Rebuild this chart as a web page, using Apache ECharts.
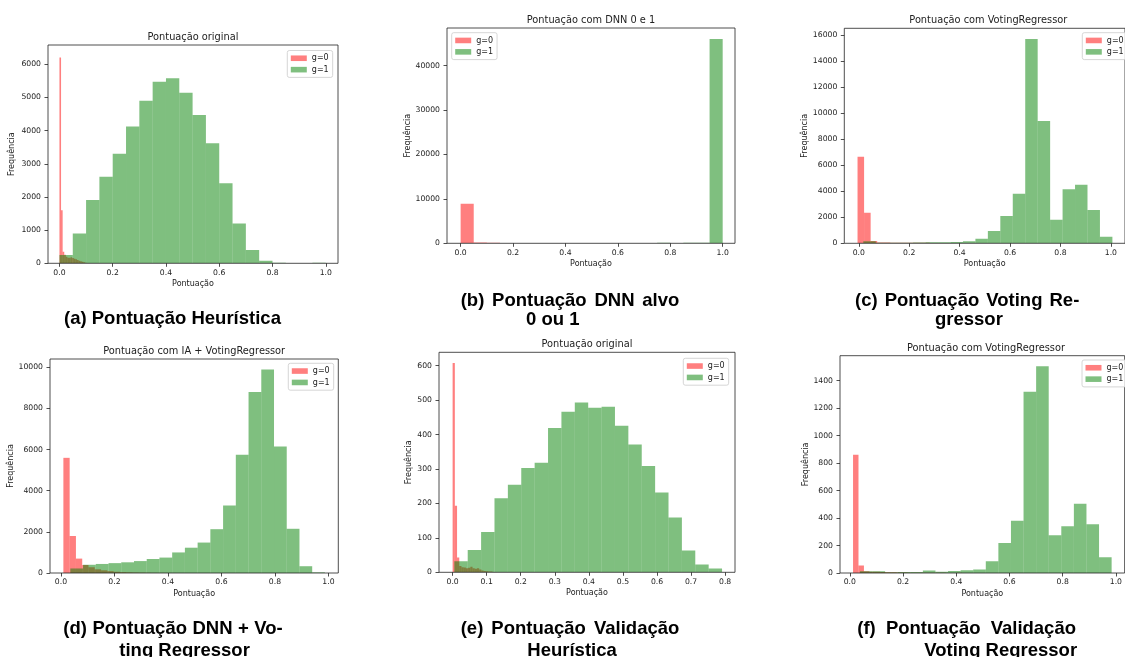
<!DOCTYPE html>
<html>
<head>
<meta charset="utf-8">
<script src="https://cdn.jsdelivr.net/npm/echarts@6/dist/echarts.min.js"></script>
<style>
  html, body { margin: 0; background: #fff; }
  #chart { width: 1125px; height: 657px; }
</style>
</head>
<body>
<div id="chart"></div>
<script>
// contagens por bin (20 bins por grupo), g=0 vermelho e g=1 verde
const countsA0 = [6200, 1600, 350, 260, 200, 170, 170, 180, 160, 140, 120, 100, 80, 60, 45, 30, 20, 12, 8, 5]
const countsA1 = [250, 900, 1910, 2610, 3300, 4120, 4900, 5470, 5580, 5140, 4470, 3620, 2410, 1200, 400, 80, 20, 5, 5, 20]
const countsB0 = [8900, 160, 140, 0, 0, 0, 0, 0, 0, 0, 0, 0, 0, 0, 0, 0, 0, 0, 0, 0]
const countsB1 = [0, 0, 0, 0, 0, 0, 0, 0, 0, 0, 0, 0, 0, 0, 0, 150, 0, 120, 150, 46000]
const countsC0 = [6650, 2350, 170, 60, 55, 50, 50, 45, 40, 40, 35, 30, 20, 15, 10, 8, 5, 3, 2, 1]
const countsC1 = [150, 50, 40, 40, 70, 80, 80, 100, 150, 350, 950, 2100, 3800, 15700, 9400, 1800, 4150, 4500, 2550, 500]
const countsD0 = [5600, 1800, 700, 390, 280, 180, 130, 90, 60, 40, 30, 20, 15, 10, 6, 4, 3, 2, 1, 1]
const countsD1 = [220, 400, 440, 480, 520, 580, 680, 750, 1000, 1230, 1480, 2130, 3280, 5750, 8800, 9900, 6150, 2150, 330, 30]
const countsE0 = [608, 193, 43, 18, 15, 14, 12, 13, 16, 12, 10, 12, 8, 5, 4, 3, 2, 2, 1, 1]
const countsE1 = [32, 65, 117, 215, 254, 303, 318, 419, 466, 493, 478, 481, 426, 371, 309, 232, 159, 63, 23, 11]
const countsF0 = [860, 55, 12, 10, 10, 8, 6, 5, 3, 3, 2, 2, 2, 1, 1, 1, 1, 0, 0, 1]
const countsF1 = [12, 12, 5, 8, 8, 18, 10, 15, 20, 25, 85, 218, 380, 1320, 1505, 275, 340, 505, 355, 115]

// primeira borda e largura do bin de cada grupo
const binsA0 = [0, 0.006]
const binsA1 = [0, 0.05]
const binsB0 = [0, 0.05]
const binsB1 = [0, 0.05]
const binsC0 = [-0.005, 0.026]
const binsC1 = [0.018, 0.0494]
const binsD0 = [0.009, 0.0235]
const binsD1 = [0.035, 0.0476]
const binsE0 = [0, 0.0065]
const binsE1 = [0.005, 0.0393]
const binsF0 = [0.012, 0.0205]
const binsF1 = [0.038, 0.0473]

// marcas dos eixos
const xTicks = [0, 0.2, 0.4, 0.6, 0.8, 1.0]
const xTicksE = [0, 0.1, 0.2, 0.3, 0.4, 0.5, 0.6, 0.7, 0.8]
const yTicksA = [0, 1000, 2000, 3000, 4000, 5000, 6000]
const yTicksB = [0, 10000, 20000, 30000, 40000]
const yTicksC = [0, 2000, 4000, 6000, 8000, 10000, 12000, 14000, 16000]
const yTicksD = [0, 2000, 4000, 6000, 8000, 10000]
const yTicksE = [0, 100, 200, 300, 400, 500, 600]
const yTicksF = [0, 200, 400, 600, 800, 1000, 1200, 1400]

const FONT = 'DejaVu Sans'
const INK = '#222'
const RED = 'rgba(255, 0, 0, 0.5)'
const GREEN = 'rgba(0, 128, 0, 0.5)'

const panels = [
  { title: 'Pontuação original', rect: [48, 45, 290, 218.3], xr: [-0.043, 1.046], ymax: 6580,
    xt: xTicks, yt: yTicksA, g0: [countsA0, binsA0], g1: [countsA1, binsA1], leg: [287.3, 50.5], yGap: 32.4 },
  { title: 'Pontuação com DNN 0 e 1', rect: [447, 28, 288, 215.3], xr: [-0.052, 1.047], ymax: 48490,
    xt: xTicks, yt: yTicksB, g0: [countsB0, binsB0], g1: [countsB1, binsB1], leg: [451.7, 32.7], yGap: 33.8 },
  { title: 'Pontuação com VotingRegressor', rect: [844.3, 28.3, 288, 215], xr: [-0.0575, 1.056], ymax: 16513,
    xt: xTicks, yt: yTicksC, g0: [countsC0, binsC0], g1: [countsC1, binsC1], leg: [1082.3, 32.7], yGap: 34.7 },
  { title: 'Pontuação com IA + VotingRegressor', rect: [50, 359, 288.3, 214], xr: [-0.041, 1.037], ymax: 10405,
    xt: xTicks, yt: yTicksD, g0: [countsD0, binsD0], g1: [countsD1, binsD1], leg: [288.3, 363.3], yGap: 34.4 },
  { title: 'Pontuação original', rect: [439, 352.3, 296, 220], xr: [-0.040, 0.829], ymax: 639,
    xt: xTicksE, yt: yTicksE, g0: [countsE0, binsE0], g1: [countsE1, binsE1], leg: [683.3, 358.3], yGap: 25.8 },
  { title: 'Pontuação com VotingRegressor', rect: [840, 355.7, 292, 217.3], xr: [-0.037, 1.033], ymax: 1582,
    xt: xTicks, yt: yTicksF, g0: [countsF0, binsF0], g1: [countsF1, binsF1], leg: [1082, 360], yGap: 30.4 }
]

// legendas das subfiguras; w = largura da linha justificada
const captions = [
  { text: '(a) Pontuação Heurística', x: 64, y: 319 },
  { text: '(b) Pontuação DNN alvo', x: 460.7, y: 300.5, w: 218.6 },
  { text: '0 ou 1', x: 526, y: 320 },
  { text: '(c) Pontuação Voting Re-', x: 855, y: 300.5, w: 224.3 },
  { text: 'gressor', x: 935, y: 320 },
  { text: '(d) Pontuação DNN + Vo-', x: 63.3, y: 629, w: 219.4 },
  { text: 'ting Regressor', x: 119.3, y: 650.5 },
  { text: '(e) Pontuação Validação', x: 460.7, y: 629, w: 218.6 },
  { text: 'Heurística', x: 527.3, y: 650.5 },
  { text: '(f) Pontuação Validação', x: 857.3, y: 629, w: 218.7 },
  { text: 'Voting Regressor', x: 924.3, y: 650.5 }
]

function toBins(counts, bins) {
  return counts.map((c, i) => [bins[0] + i * bins[1], bins[0] + (i + 1) * bins[1], c])
}

function renderBin(params, api) {
  const lo = api.coord([api.value(0), 0])
  const hi = api.coord([api.value(1), api.value(2)])
  return {
    type: 'rect',
    shape: { x: lo[0], y: hi[1], width: hi[0] - lo[0], height: lo[1] - hi[1] },
    style: api.style()
  }
}

const capFont = 'bold 18.5px "Liberation Sans"'
const measure = document.createElement('canvas').getContext('2d')
measure.font = capFont

function captionTexts(cap) {
  const style = (text) => ({ text, font: capFont, fill: '#000', align: 'left', verticalAlign: 'middle' })
  if (!cap.w) {
    return [{ type: 'text', x: cap.x, y: cap.y, style: style(cap.text) }]
  }
  const words = cap.text.split(' ')
  const widths = words.map(w => measure.measureText(w).width)
  const gap = (cap.w - widths.reduce((a, b) => a + b, 0)) / (words.length - 1)
  let x = cap.x
  return words.map((w, i) => {
    const el = { type: 'text', x, y: cap.y, style: style(w) }
    x += widths[i] + gap
    return el
  })
}

const chart = echarts.init(document.getElementById('chart'))

const graphic = []
panels.forEach(p => {
  graphic.push({
    type: 'text',
    x: p.rect[0] + p.rect[2] / 2,
    y: p.rect[1] - 7.5,
    style: { text: p.title, font: '9.8px "' + FONT + '"', fill: INK, align: 'center', verticalAlign: 'middle' }
  })
})
captions.forEach(c => graphic.push(...captionTexts(c)))

const series = []
panels.forEach((p, i) => {
  [['g=0', RED, p.g0], ['g=1', GREEN, p.g1]].forEach(([name, color, g]) => {
    series.push({
      type: 'custom',
      name,
      xAxisIndex: i,
      yAxisIndex: i,
      renderItem: renderBin,
      itemStyle: { color },
      encode: { x: [0, 1], y: 2 },
      clip: true,
      data: toBins(g[0], g[1])
    })
  })
})

chart.setOption({
  animation: false,
  backgroundColor: '#fff',
  grid: panels.map(p => ({
    left: p.rect[0], top: p.rect[1], width: p.rect[2], height: p.rect[3],
    show: true, borderColor: INK, borderWidth: 0.8, backgroundColor: 'transparent', z: 3
  })),
  xAxis: panels.map((p, i) => ({
    type: 'value',
    gridIndex: i,
    min: p.xr[0],
    max: p.xr[1],
    name: 'Pontuação',
    nameLocation: 'middle',
    nameGap: 16.5,
    nameTextStyle: { fontSize: 8, color: INK, fontFamily: FONT },
    axisLine: { show: false, onZero: false },
    axisTick: { show: true, length: 3.5, customValues: p.xt, lineStyle: { color: INK, width: 0.8 } },
    axisLabel: { customValues: p.xt, formatter: v => v.toFixed(1), fontSize: 7.7, color: INK, fontFamily: FONT, margin: 5.5 },
    splitLine: { show: false }
  })),
  yAxis: panels.map((p, i) => ({
    type: 'value',
    gridIndex: i,
    min: 0,
    max: p.ymax,
    name: 'Frequência',
    nameLocation: 'middle',
    nameGap: p.yGap,
    nameTextStyle: { fontSize: 8, color: INK, fontFamily: FONT },
    axisLine: { show: false, onZero: false },
    axisTick: { show: true, length: 3.5, customValues: p.yt, lineStyle: { color: INK, width: 0.8 } },
    axisLabel: { customValues: p.yt, formatter: v => String(v), fontSize: 7.7, color: INK, fontFamily: FONT, margin: 7 },
    splitLine: { show: false }
  })),
  legend: panels.map(p => ({
    data: ['g=0', 'g=1'],
    orient: 'vertical',
    left: p.leg[0],
    top: p.leg[1],
    icon: 'rect',
    itemWidth: 16,
    itemHeight: 5.6,
    itemGap: 1.9,
    padding: [3, 4, 3, 3.5],
    backgroundColor: 'rgba(255, 255, 255, 0.8)',
    borderColor: '#ccc',
    borderWidth: 0.8,
    borderRadius: 2,
    selectedMode: false,
    textStyle: { fontSize: 8, color: INK, fontFamily: FONT, lineHeight: 9.5 }
  })),
  graphic,
  series
})
</script>
</body>
</html>
